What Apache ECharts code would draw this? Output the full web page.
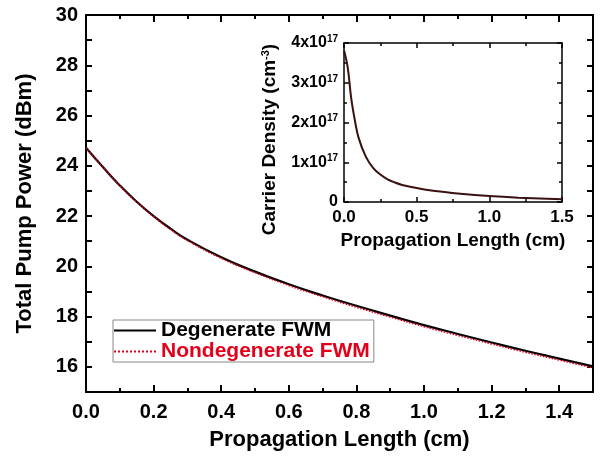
<!DOCTYPE html>
<html>
<head>
<meta charset="utf-8">
<script src="https://cdn.jsdelivr.net/npm/echarts@6/dist/echarts.min.js"></script>
<style>
  html, body { margin: 0; padding: 0; background: #fff; }
  #chart { width: 600px; height: 457px; }
</style>
</head>
<body>
<div id="chart"></div>
<script>
// main panel: total pump power vs propagation length
const lengthCm = [0, 0.05, 0.1, 0.15, 0.2, 0.25, 0.3, 0.4, 0.5, 0.6, 0.7, 0.8, 0.9, 1.0, 1.1, 1.2, 1.3, 1.4, 1.5];
const degeneratePower = [24.72, 23.95, 23.22, 22.57, 22.0, 21.5, 21.06, 20.36, 19.79, 19.29, 18.84, 18.43, 18.04, 17.66, 17.31, 16.97, 16.64, 16.33, 16.02];
const nondegeneratePower = [24.71, 23.94, 23.21, 22.55, 21.98, 21.47, 21.03, 20.32, 19.75, 19.24, 18.79, 18.37, 17.98, 17.6, 17.25, 16.91, 16.58, 16.27, 15.96];

// inset: carrier density vs propagation length
const insetLengthCm = [0, 0.025, 0.05, 0.075, 0.1, 0.15, 0.2, 0.25, 0.3, 0.35, 0.4, 0.5, 0.6, 0.8, 1.0, 1.2, 1.5];
const carrierDensity = [3.82e17, 3.4e17, 2.6e17, 2.05e17, 1.62e17, 1.14e17, 0.86e17, 0.69e17, 0.57e17, 0.49e17, 0.43e17, 0.35e17, 0.29e17, 0.21e17, 0.15e17, 0.11e17, 0.07e17];

const FONT = "Liberation Sans";
const pairs = (xs, ys) => xs.map((x, i) => [x, ys[i]]);

const chart = echarts.init(document.getElementById("chart"));

const frameLine = { show: true, onZero: false, lineStyle: { color: "#000", width: 2 } };
const insetFrame = { show: true, onZero: false, lineStyle: { color: "#000", width: 1.5 } };

chart.setOption({
  backgroundColor: "#fff",
  animation: false,
  grid: [
    { left: 86, top: 15, right: 7, bottom: 65 },
    { left: 344, top: 43, right: 38, bottom: 255 },
  ],
  legend: {
    left: 113,
    top: 320,
    orient: "vertical",
    backgroundColor: "#fff",
    borderColor: "#888",
    borderWidth: 1,
    padding: [0, 4, 0, 0],
    itemGap: 0,
    itemWidth: 42,
    itemHeight: 21,
    itemStyle: { opacity: 0 },
    textStyle: { fontFamily: FONT, fontWeight: "bold", fontSize: 21, color: "#000" },
    data: [
      { name: "Degenerate FWM" },
      { name: "Nondegenerate FWM", textStyle: { color: "#e3001b" } },
    ],
  },
  xAxis: [
    {
      gridIndex: 0,
      type: "value",
      min: 0,
      max: 1.5,
      interval: 0.2,
      name: "Propagation Length (cm)",
      nameLocation: "middle",
      nameGap: 37,
      nameTextStyle: { fontFamily: FONT, fontWeight: "bold", fontSize: 22, color: "#000" },
      axisLine: frameLine,
      axisTick: { inside: true, length: 7, lineStyle: { color: "#000", width: 2 } },
      minorTick: { show: true, splitNumber: 2, length: 4, lineStyle: { color: "#000", width: 2 } },
      splitLine: { show: false },
      axisLabel: {
        margin: 10,
        fontFamily: FONT,
        fontWeight: "bold",
        fontSize: 20,
        color: "#000",
        formatter: (v) => (Math.round(v * 10) % 2 === 0 ? v.toFixed(1) : ""),
      },
    },
    {
      gridIndex: 0,
      type: "value",
      position: "top",
      min: 0,
      max: 1.5,
      interval: 0.2,
      axisLine: frameLine,
      axisTick: { inside: true, length: 7, lineStyle: { color: "#000", width: 2 } },
      minorTick: { show: true, splitNumber: 2, length: 4, lineStyle: { color: "#000", width: 2 } },
      splitLine: { show: false },
      axisLabel: { show: false },
    },
    {
      gridIndex: 1,
      type: "value",
      min: 0,
      max: 1.5,
      interval: 0.5,
      name: "Propagation Length (cm)",
      nameLocation: "middle",
      nameGap: 29,
      nameTextStyle: { fontFamily: FONT, fontWeight: "bold", fontSize: 19, color: "#000" },
      axisLine: insetFrame,
      axisTick: { inside: true, length: 5, lineStyle: { color: "#000", width: 1.5 } },
      minorTick: { show: true, splitNumber: 2, length: 3, lineStyle: { color: "#000", width: 1.5 } },
      splitLine: { show: false },
      axisLabel: {
        margin: 7,
        fontFamily: FONT,
        fontWeight: "bold",
        fontSize: 17,
        color: "#000",
        formatter: (v) => v.toFixed(1),
      },
    },
    {
      gridIndex: 1,
      type: "value",
      position: "top",
      min: 0,
      max: 1.5,
      interval: 0.5,
      axisLine: insetFrame,
      axisTick: { inside: true, length: 5, lineStyle: { color: "#000", width: 1.5 } },
      minorTick: { show: true, splitNumber: 2, length: 3, lineStyle: { color: "#000", width: 1.5 } },
      splitLine: { show: false },
      axisLabel: { show: false },
    },
  ],
  yAxis: [
    {
      gridIndex: 0,
      type: "value",
      min: 15,
      max: 30,
      interval: 1,
      name: "Total Pump Power (dBm)",
      nameLocation: "middle",
      nameGap: 50,
      nameTextStyle: { fontFamily: FONT, fontWeight: "bold", fontSize: 22, color: "#000" },
      axisLine: frameLine,
      axisTick: { inside: true, length: 6, lineStyle: { color: "#000", width: 2 } },
      splitLine: { show: false },
      axisLabel: {
        margin: 8,
        fontFamily: FONT,
        fontWeight: "bold",
        fontSize: 20,
        color: "#000",
        formatter: (v) => (v % 2 === 0 ? String(v) : ""),
      },
    },
    {
      gridIndex: 0,
      type: "value",
      position: "right",
      min: 15,
      max: 30,
      interval: 1,
      axisLine: frameLine,
      axisTick: { inside: true, length: 6, lineStyle: { color: "#000", width: 2 } },
      splitLine: { show: false },
      axisLabel: { show: false },
    },
    {
      gridIndex: 1,
      type: "value",
      min: 0,
      max: 4e17,
      interval: 1e17,
      name: "{t|Carrier Density (cm}{s|-3}{t|)}",
      nameLocation: "middle",
      nameGap: 64,
      nameTextStyle: {
        padding: [0, 34, 0, 0],
        rich: {
          t: { fontFamily: FONT, fontWeight: "bold", fontSize: 19, color: "#000" },
          s: { fontFamily: FONT, fontWeight: "bold", fontSize: 11, color: "#000", verticalAlign: "top", padding: [0, 0, 9, 0] },
        },
      },
      axisLine: insetFrame,
      axisTick: { inside: true, length: 5, lineStyle: { color: "#000", width: 1.5 } },
      minorTick: { show: true, splitNumber: 2, length: 3, lineStyle: { color: "#000", width: 1.5 } },
      splitLine: { show: false },
      axisLabel: {
        margin: 6,
        formatter: (v) => {
          const n = Math.round(v / 1e17);
          return n === 0 ? "{t|0}" : "{t|" + n + "x10}{s|17}";
        },
        rich: {
          t: { fontFamily: FONT, fontWeight: "bold", fontSize: 16, color: "#000" },
          s: { fontFamily: FONT, fontWeight: "bold", fontSize: 10, color: "#000", verticalAlign: "top", padding: [0, 0, 8, 0] },
        },
      },
    },
    {
      gridIndex: 1,
      type: "value",
      position: "right",
      min: 0,
      max: 4e17,
      interval: 1e17,
      axisLine: insetFrame,
      axisTick: { inside: true, length: 5, lineStyle: { color: "#000", width: 1.5 } },
      minorTick: { show: true, splitNumber: 2, length: 3, lineStyle: { color: "#000", width: 1.5 } },
      splitLine: { show: false },
      axisLabel: { show: false },
    },
  ],
  series: [
    {
      name: "Degenerate FWM",
      type: "line",
      xAxisIndex: 0,
      yAxisIndex: 0,
      data: pairs(lengthCm, degeneratePower),
      smooth: 0.5,
      symbol: "none",
      lineStyle: { color: "#000", width: 2.2 },
      itemStyle: { color: "#000" },
    },
    {
      name: "Nondegenerate FWM",
      type: "line",
      xAxisIndex: 0,
      yAxisIndex: 0,
      data: pairs(lengthCm, nondegeneratePower),
      smooth: 0.5,
      symbol: "none",
      lineStyle: { color: "#e3001b", width: 1.5, type: "dotted" },
      itemStyle: { color: "#e3001b" },
    },
    {
      name: "inset degenerate",
      type: "line",
      xAxisIndex: 2,
      yAxisIndex: 2,
      data: pairs(insetLengthCm, carrierDensity),
      smooth: 0.4,
      symbol: "none",
      lineStyle: { color: "#3a1010", width: 2 },
    },
  ],
});
</script>
</body>
</html>
